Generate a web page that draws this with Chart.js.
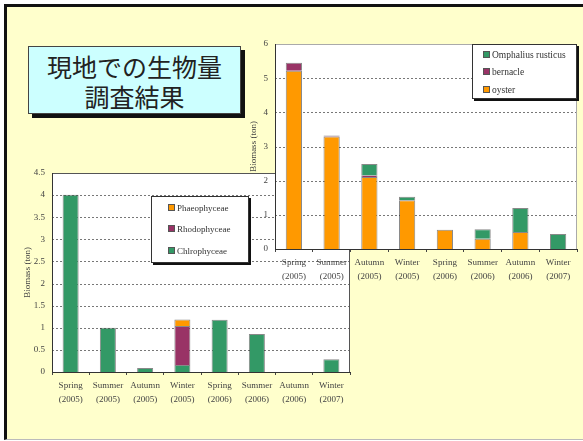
<!DOCTYPE html>
<html>
<head>
<meta charset="utf-8">
<script src="https://cdn.jsdelivr.net/npm/chart.js@4.4.0/dist/chart.umd.min.js"></script>
<style>
  body { margin: 0; width: 583px; height: 441px; overflow: hidden; background: #fff; }
  #slide { position: absolute; left: 4px; top: 4px; width: 579px; height: 432px;
           background: #FFFFCC; border-left: 3px solid #111; border-top: 3px solid #111;
           border-bottom: 1px solid #bbb; }
  #title { position: absolute; left: 28px; top: 46px; width: 211px; height: 62px;
           background: #CCFFFF; border: 1px solid #444; box-shadow: 4px 4px 0 #111;
           font-family: "Noto Sans CJK JP", sans-serif; font-size: 25px; color: #222;
           text-align: center; line-height: 30px; padding-top: 4px; box-sizing: content-box; }
  canvas { position: absolute; }
  #lowerWrap { position: absolute; left: 0; top: 160px; width: 360px; height: 260px; }
  #upperWrap { position: absolute; left: 240px; top: 30px; width: 343px; height: 265px; }
  .legend { position: absolute; background: #fff; border: 1px solid #333; box-shadow: 2px 2px 0 #111;
            font-family: "Liberation Serif", serif; font-size: 9px; color: #333; }
  .legend div { position: absolute; white-space: nowrap; line-height: 10px; }
  .legend span { display: inline-block; width: 5px; height: 5px; border: 1px solid #555; margin-right: 2px; vertical-align: 0; }
</style>
</head>
<body>
<div id="slide"></div>
<div id="title">現地での生物量<br>調査結果</div>
<div id="lowerWrap"><canvas id="lowerChart" width="360" height="260"></canvas></div>
<div class="legend" id="lowerLegend" style="left:151px;top:196px;width:96px;height:65px;"></div>
<div id="upperWrap"><canvas id="upperChart" width="343" height="265"></canvas></div>
<div class="legend" id="upperLegend" style="left:472px;top:44px;width:103px;height:53px;font-size:9.5px;"></div>
<script>
// categories shared by both charts
const seasons = [['Spring', '(2005)'], ['Summer', '(2005)'], ['Autumn', '(2005)'], ['Winter', '(2005)'],
                 ['Spring', '(2006)'], ['Summer', '(2006)'], ['Autumn', '(2006)'], ['Winter', '(2007)']];

// upper chart (animals), ton
const oyster    = [5.22, 3.29, 2.11, 1.43, 0.56, 0.30, 0.50, null];
const bernacle  = [0.23, 0.03, 0.05, null, null, null, null, null];
const omphalius = [null, null, 0.33, 0.10, null, 0.28, 0.70, 0.44];

// lower chart (algae), ton
const chlorophyceae = [4.01, 1.00, 0.09, 0.16, 1.18, 0.86, null, 0.29];
const rhodophyceae  = [null, null, null, 0.88, null, null, null, null];
const phaeophyceae  = [null, null, null, 0.15, null, null, null, null];

const upperTicks = { min: 0, max: 6, step: 1 };
const lowerTicks = { min: 0, max: 4.5, step: 0.5 };

const ORANGE = '#FF9900';
const PURPLE = '#993366';
const GREEN = '#339966';

// white plot area + dotted gridlines, like the excel charts
const plotBg = {
    id: 'plotBg',
    beforeDraw(chart, args, opts) {
        const ctx = chart.ctx;
        const a = chart.chartArea;
        const y = chart.scales.y;
        ctx.save();
        ctx.fillStyle = '#fff';
        ctx.fillRect(a.left, a.top, a.right - a.left, a.bottom - a.top);
        ctx.strokeStyle = '#777';
        ctx.lineWidth = 1;
        ctx.setLineDash([2, 2]);
        y.ticks.forEach(t => {
            if (t.value <= y.min || t.value >= y.max) return;
            const py = Math.round(y.getPixelForValue(t.value)) + 0.5;
            ctx.beginPath();
            ctx.moveTo(a.left, py);
            ctx.lineTo(a.right, py);
            ctx.stroke();
        });
        ctx.setLineDash([]);
        ctx.strokeStyle = opts.frame || '#999';
        ctx.beginPath();
        ctx.moveTo(a.left, a.top + 0.5);
        ctx.lineTo(a.right - 0.5, a.top + 0.5);
        ctx.lineTo(a.right - 0.5, a.bottom);
        ctx.stroke();
        ctx.restore();
    }
};

function make_dataset(label, data, color) {
    return {
        label: label,
        data: data,
        backgroundColor: color,
        borderColor: 'rgba(40,40,40,0.55)',
        borderWidth: 1,
        borderSkipped: 'start',
        categoryPercentage: 1,
        barPercentage: 0.43
    };
}

function make_options(ticks, yWidth, xHeight, padding, titlePad, frame) {
    const tickFont = { family: 'Liberation Serif', size: 9, lineHeight: 1.5 };
    return {
        responsive: false,
        animation: false,
        layout: { padding: padding },
        plugins: {
            legend: { display: false },
            tooltip: { enabled: false },
            plotBg: { frame: frame }
        },
        scales: {
            x: {
                stacked: true,
                grid: { display: true, drawOnChartArea: false, drawTicks: true, tickLength: 3, color: '#444', offset: true },
                border: { display: true, color: '#333', width: 1 },
                ticks: { color: '#444', font: tickFont, padding: 4, maxRotation: 0, autoSkip: false },
                afterFit(s) { s.height = xHeight; }
            },
            y: {
                stacked: true,
                min: ticks.min,
                max: ticks.max,
                grid: { display: false, drawTicks: false },
                border: { display: true, color: '#333', width: 1 },
                ticks: { stepSize: ticks.step, color: '#444', font: { family: 'Liberation Serif', size: 9 }, padding: 7,
                         callback: v => String(v) },
                title: { display: true, text: 'Biomass (ton)', color: '#444',
                         font: { family: 'Liberation Serif', size: 9 }, padding: { top: titlePad, bottom: 0 } },
                afterFit(s) { s.width = yWidth; }
            }
        }
    };
}

function draw_legend(id, items) {
    const box = document.getElementById(id);
    items.forEach((it, i) => {
        const row = document.createElement('div');
        row.style.left = it.x + 'px';
        row.style.top = it.y + 'px';
        row.innerHTML = '<span style="background:' + it.color + '"></span>' + it.label;
        box.appendChild(row);
    });
}

new Chart(document.getElementById('lowerChart').getContext('2d'), {
    type: 'bar',
    data: {
        labels: seasons,
        datasets: [
            make_dataset('Chlrophyceae', chlorophyceae, GREEN),
            make_dataset('Rhodophyceae', rhodophyceae, PURPLE),
            make_dataset('Phaeophyceae', phaeophyceae, ORANGE)
        ]
    },
    options: make_options(lowerTicks, 52, 48, { left: 0, top: 13, right: 10, bottom: 0 }, 22, '#555'),
    plugins: [plotBg]
});

new Chart(document.getElementById('upperChart').getContext('2d'), {
    type: 'bar',
    data: {
        labels: seasons,
        datasets: [
            make_dataset('oyster', oyster, ORANGE),
            make_dataset('bernacle', bernacle, PURPLE),
            make_dataset('Omphalius rusticus', omphalius, GREEN)
        ]
    },
    options: make_options(upperTicks, 35, 46, { left: 0, top: 14, right: 6, bottom: 0 }, 8, '#aaa'),
    plugins: [plotBg]
});

draw_legend('lowerLegend', [
    { label: 'Phaeophyceae', color: ORANGE, x: 16, y: 6 },
    { label: 'Rhodophyceae', color: PURPLE, x: 16, y: 27 },
    { label: 'Chlrophyceae', color: GREEN, x: 16, y: 49 }
]);
draw_legend('upperLegend', [
    { label: 'Omphalius rusticus', color: GREEN, x: 10, y: 5 },
    { label: 'bernacle', color: PURPLE, x: 10, y: 22 },
    { label: 'oyster', color: ORANGE, x: 10, y: 40 }
]);
</script>
</body>
</html>
